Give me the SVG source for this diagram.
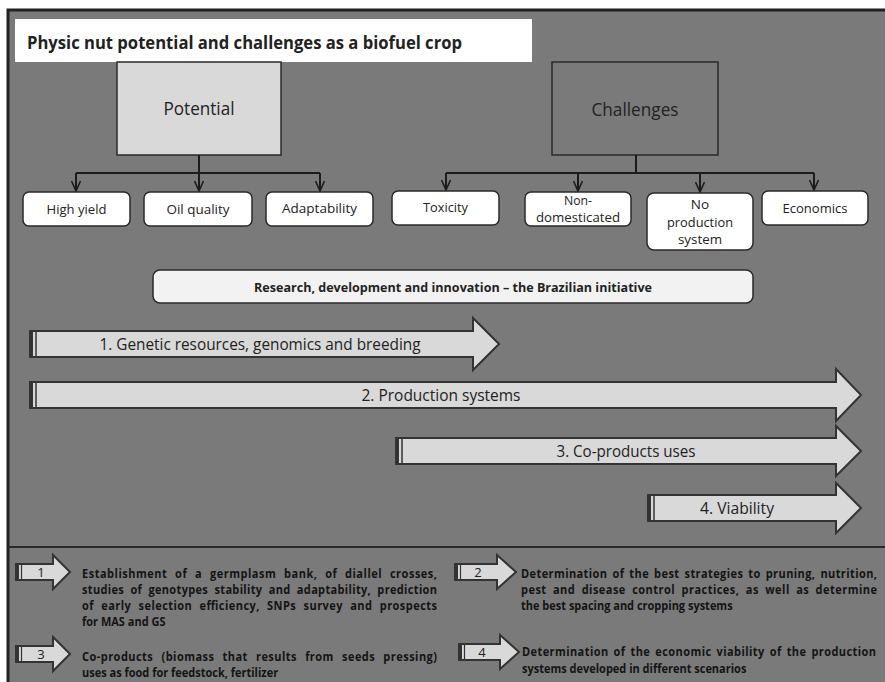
<svg xmlns="http://www.w3.org/2000/svg" width="885" height="682" viewBox="0 0 885 682">
<defs>
<marker id="open" viewBox="0 0 12 10" refX="11" refY="5" markerWidth="12" markerHeight="10" markerUnits="userSpaceOnUse" orient="auto">
<path d="M1,0.5 L11,5 L1,9.5" fill="none" stroke="#1c1c1c" stroke-width="1.6"/>
</marker>
<style>
text{font-family:"Open Sans","Liberation Sans",sans-serif;fill:#222}
.cb{fill:#ffffff;stroke:#2a2a2a;stroke-width:1.5}
.ct{font-size:13.5px;text-anchor:middle;dominant-baseline:central}
.conn{fill:none;stroke:#1c1c1c;stroke-width:2}
.arr{fill:#d9d9d9;stroke:#333;stroke-width:2}
.at{font-size:16px;text-anchor:middle;dominant-baseline:central}
.lg{font-size:12.5px;font-weight:bold;dominant-baseline:central;fill:#141414}
.lgn{font-size:13px;text-anchor:middle;dominant-baseline:central}
.dk{fill:#333}
</style>
</defs>
<rect x="0" y="0" width="885" height="682" fill="#ffffff"/>
<rect x="8" y="10" width="900" height="700" fill="#7a7a7a" stroke="#222" stroke-width="3"/>
<line x1="8" y1="547" x2="885" y2="547" stroke="#2a2a2a" stroke-width="2"/>

<g id="title">
<rect x="15" y="19" width="517" height="43" fill="#ffffff"/>
<text x="27" y="42" font-size="18" font-weight="bold" dominant-baseline="central" textLength="435" lengthAdjust="spacingAndGlyphs" fill="#111">Physic nut potential and challenges as a biofuel crop</text>
</g>

<g id="potential">
<rect x="117" y="62" width="164" height="93" fill="#d9d9d9" stroke="#2a2a2a" stroke-width="1.5"/>
<text x="199" y="108" font-size="19" text-anchor="middle" dominant-baseline="central" textLength="71" lengthAdjust="spacingAndGlyphs" fill="#333">Potential</text>
</g>
<g id="challenges">
<rect x="552" y="62" width="166" height="93" fill="#7a7a7a" stroke="#2a2a2a" stroke-width="1.5"/>
<text x="635" y="109" font-size="19" text-anchor="middle" dominant-baseline="central" textLength="87" lengthAdjust="spacingAndGlyphs" fill="#2a2a2a">Challenges</text>
</g>

<g id="connectors">
<path class="conn" d="M199,155 V173 M76,173 H320"/>
<path class="conn" d="M76,173 V191" marker-end="url(#open)"/>
<path class="conn" d="M199,173 V191" marker-end="url(#open)"/>
<path class="conn" d="M320,173 V191" marker-end="url(#open)"/>
<path class="conn" d="M636,155 V173 M446,173 H814"/>
<path class="conn" d="M446,173 V190" marker-end="url(#open)"/>
<path class="conn" d="M578,173 V191" marker-end="url(#open)"/>
<path class="conn" d="M700,173 V192" marker-end="url(#open)"/>
<path class="conn" d="M814,173 V190" marker-end="url(#open)"/>
</g>

<g id="high-yield"><rect class="cb" x="23" y="192" width="107" height="34" rx="6"/><text class="ct" x="76.5" y="209" textLength="60" lengthAdjust="spacingAndGlyphs">High yield</text></g>
<g id="oil-quality"><rect class="cb" x="144" y="192" width="108" height="34" rx="6"/><text class="ct" x="198" y="209" textLength="63" lengthAdjust="spacingAndGlyphs">Oil quality</text></g>
<g id="adaptability"><rect class="cb" x="266" y="192" width="107" height="34" rx="6"/><text class="ct" x="319.5" y="208" textLength="75" lengthAdjust="spacingAndGlyphs">Adaptability</text></g>
<g id="toxicity"><rect class="cb" x="392" y="191" width="107" height="34" rx="6"/><text class="ct" x="445.5" y="207" textLength="45" lengthAdjust="spacingAndGlyphs">Toxicity</text></g>
<g id="non-domesticated"><rect class="cb" x="525" y="192" width="106" height="34" rx="6"/><text class="ct" x="578" y="200" textLength="28" lengthAdjust="spacingAndGlyphs">Non-</text><text class="ct" x="578" y="217" textLength="84" lengthAdjust="spacingAndGlyphs">domesticated</text></g>
<g id="no-production"><rect class="cb" x="647" y="193" width="106" height="57" rx="7"/><text class="ct" x="700" y="204">No</text><text class="ct" x="700" y="222" textLength="66" lengthAdjust="spacingAndGlyphs">production</text><text class="ct" x="700" y="239" textLength="44" lengthAdjust="spacingAndGlyphs">system</text></g>
<g id="economics"><rect class="cb" x="762" y="191" width="106" height="34" rx="6"/><text class="ct" x="815" y="208" textLength="65" lengthAdjust="spacingAndGlyphs">Economics</text></g>

<g id="research">
<rect x="153" y="270" width="600" height="33" rx="7" fill="#f2f2f2" stroke="#2a2a2a" stroke-width="1.5"/>
<text x="453" y="287" font-size="12" font-weight="bold" text-anchor="middle" dominant-baseline="central" textLength="398" lengthAdjust="spacingAndGlyphs" fill="#1a1a1a">Research, development and innovation – the Brazilian initiative</text>
</g>

<g id="arrow1">
<polygon class="arr" points="30,331 473,331 473,318 499,344 473,370 473,357 30,357"/>
<rect class="dk" x="30" y="331" width="3" height="26"/><line x1="36" y1="331" x2="36" y2="357" stroke="#333" stroke-width="1.5"/>
<text class="at" x="260" y="344" textLength="321" lengthAdjust="spacingAndGlyphs">1. Genetic resources, genomics and breeding</text>
</g>
<g id="arrow2">
<polygon class="arr" points="30,382 836,382 836,369 861,395 836,421 836,408 30,408"/>
<rect class="dk" x="30" y="382" width="3" height="26"/><line x1="36" y1="382" x2="36" y2="408" stroke="#333" stroke-width="1.5"/>
<text class="at" x="441" y="395" textLength="159" lengthAdjust="spacingAndGlyphs">2. Production systems</text>
</g>
<g id="arrow3">
<polygon class="arr" points="396,438 836,438 836,426 861,451 836,476 836,464 396,464"/>
<rect class="dk" x="396" y="438" width="3" height="26"/><line x1="402" y1="438" x2="402" y2="464" stroke="#333" stroke-width="1.5"/>
<text class="at" x="626" y="451" textLength="139" lengthAdjust="spacingAndGlyphs">3. Co-products uses</text>
</g>
<g id="arrow4">
<polygon class="arr" points="648,495 836,495 836,483 861,508 836,533 836,521 648,521"/>
<rect class="dk" x="648" y="495" width="3" height="26"/><line x1="654" y1="495" x2="654" y2="521" stroke="#333" stroke-width="1.5"/>
<text class="at" x="737" y="508" textLength="74" lengthAdjust="spacingAndGlyphs">4. Viability</text>
</g>

<g id="legend1">
<polygon class="arr" points="16,564 53,564 53,555 70,572 53,589 53,580 16,580" stroke-width="1.5"/>
<rect class="dk" x="16" y="564" width="3" height="16"/><line x1="21.5" y1="564" x2="21.5" y2="580" stroke="#333" stroke-width="1.2"/>
<text class="lgn" x="41" y="572">1</text>
<g transform="translate(82,0) scale(0.88,1)">
<text class="lg" x="0" y="573" word-spacing="5" textLength="403.4" lengthAdjust="spacing">Establishment of a germplasm bank, of diallel crosses,</text>
<text class="lg" x="0" y="589" word-spacing="3.5" textLength="403.4" lengthAdjust="spacing">studies of genotypes stability and adaptability, prediction</text>
<text class="lg" x="0" y="605" word-spacing="4.5" textLength="403.4" lengthAdjust="spacing">of early selection efficiency, SNPs survey and prospects</text>
<text class="lg" x="0" y="621">for MAS and GS</text>
</g>
</g>
<g id="legend2">
<polygon class="arr" points="455,564 497,564 497,555 516,572 497,589 497,580 455,580" stroke-width="1.5"/>
<rect class="dk" x="455" y="564" width="3" height="16"/><line x1="460.5" y1="564" x2="460.5" y2="580" stroke="#333" stroke-width="1.2"/>
<text class="lgn" x="478" y="572">2</text>
<g transform="translate(521,0) scale(0.88,1)">
<text class="lg" x="0" y="573" word-spacing="2" textLength="404.5" lengthAdjust="spacing">Determination of the best strategies to pruning, nutrition,</text>
<text class="lg" x="0" y="589" word-spacing="3.5" textLength="404.5" lengthAdjust="spacing">pest and disease control practices, as well as determine</text>
<text class="lg" x="0" y="605">the best spacing and cropping systems</text>
</g>
</g>
<g id="legend3">
<polygon class="arr" points="16,646 53,646 53,637 70,654 53,671 53,662 16,662" stroke-width="1.5"/>
<rect class="dk" x="16" y="646" width="3" height="16"/><line x1="21.5" y1="646" x2="21.5" y2="662" stroke="#333" stroke-width="1.2"/>
<text class="lgn" x="41" y="654">3</text>
<g transform="translate(82,0) scale(0.88,1)">
<text class="lg" x="0" y="656" word-spacing="5.5" textLength="403.4" lengthAdjust="spacing">Co-products (biomass that results from seeds pressing)</text>
<text class="lg" x="0" y="672">uses as food for feedstock, fertilizer</text>
</g>
</g>
<g id="legend4">
<polygon class="arr" points="459,644 500,644 500,635 519,652 500,669 500,660 459,660" stroke-width="1.5"/>
<rect class="dk" x="459" y="644" width="3" height="16"/><line x1="464.5" y1="644" x2="464.5" y2="660" stroke="#333" stroke-width="1.2"/>
<text class="lgn" x="482" y="652">4</text>
<g transform="translate(522,0) scale(0.88,1)">
<text class="lg" x="0" y="651" word-spacing="2" textLength="402.3" lengthAdjust="spacing">Determination of the economic viability of the production</text>
<text class="lg" x="0" y="668">systems developed in different scenarios</text>
</g>
</g>
</svg>
